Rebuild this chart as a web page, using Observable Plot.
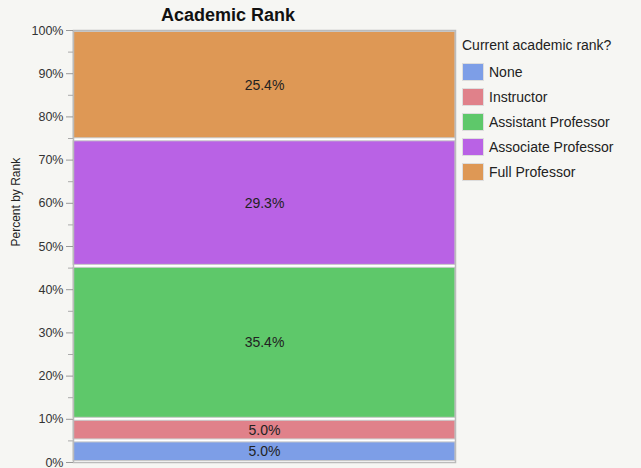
<!DOCTYPE html>
<html>
<head>
<meta charset="utf-8">
<script src="https://cdn.jsdelivr.net/npm/d3@7"></script>
<script src="https://cdn.jsdelivr.net/npm/@observablehq/plot@0.6"></script>
<style>
  html, body { margin: 0; padding: 0; background: #f6f6f3; }
  #wrap { position: relative; width: 641px; height: 468px; font-family: "Liberation Sans", Arial, sans-serif; }
  #title { position: absolute; left: 0; width: 456px; text-align: center; top: 5px; font-weight: bold; font-size: 18px; color: #111; }
  #legend { position: absolute; left: 462px; top: 37px; color: #222; }
  #legend .lt { font-size: 14px; margin-bottom: 6px; }
  #legend .row { display: flex; align-items: center; height: 25px; font-size: 14px; }
  #legend .sw { width: 22px; height: 18px; margin-right: 5px; border: 1px solid #ddd; box-sizing: border-box; }
</style>
</head>
<body>
<div id="wrap">
  <div id="chart"></div>
  <div id="title"></div>
  <div id="legend"></div>
</div>
<script>
const categories = ["None", "Instructor", "Assistant Professor", "Associate Professor", "Full Professor"];
const percents = [5.0, 5.0, 35.4, 29.3, 25.4];
const colors = ["#7d9ee7", "#e0818a", "#5ec86a", "#b962e5", "#de9855"];
const yTicks = [0, 10, 20, 30, 40, 50, 60, 70, 80, 90, 100];
const yMinorTicks = [5, 15, 25, 35, 45, 55, 65, 75, 85, 95];
const titleText = "Academic Rank";
const legendTitle = "Current academic rank?";
const yLabel = "Percent by Rank";

let acc = 0;
const data = categories.map((c, i) => {
  const y1 = acc; acc += percents[i];
  const y2 = Math.min(acc, 100);
  return { cat: c, value: percents[i], y1, y2, mid: (y1 + y2) / 2, group: "All" };
});

const chart = Plot.plot({
  width: 641,
  height: 468,
  marginLeft: 73,
  marginRight: 186,
  marginTop: 30,
  marginBottom: 6,
  style: { background: "transparent", fontFamily: "Liberation Sans, Arial, sans-serif", fontSize: "12px", color: "#333" },
  x: { axis: null, domain: ["All"], padding: 0 },
  y: { domain: [0, 100], label: null },
  color: { domain: categories, range: colors },
  marks: [
    Plot.frame({ fill: "white" }),
    Plot.barY(data, { x: "group", y1: "y1", y2: "y2", fill: "cat", stroke: "#c8c8c8", strokeWidth: 1, insetTop: 1.5, insetBottom: 1.5 }),
    Plot.text(data, { x: "group", y: "mid", text: d => d.value.toFixed(1) + "%", fontSize: 14, fill: "#222" }),
    Plot.frame({ stroke: "#bbb", strokeWidth: 1.5 }),
    Plot.axisY({ ticks: yTicks, tickFormat: d => d + "%", tickSize: 7, tickPadding: 3, stroke: "#999", fill: "#333", fontSize: 12.5, label: null }),
    Plot.axisY({ ticks: yMinorTicks, tickFormat: () => "", tickSize: 5, stroke: "#aaa", label: null }),
    Plot.text([yLabel], { frameAnchor: "left", dx: -57, rotate: -90, text: d => d, fontSize: 12, fill: "#222" })
  ]
});
document.getElementById("chart").appendChild(chart);

document.getElementById("title").textContent = titleText;
const lg = document.getElementById("legend");
const lt = document.createElement("div"); lt.className = "lt"; lt.textContent = legendTitle; lg.appendChild(lt);
categories.forEach((c, i) => {
  const r = document.createElement("div"); r.className = "row";
  const s = document.createElement("div"); s.className = "sw"; s.style.background = colors[i];
  const t = document.createElement("span"); t.textContent = c;
  r.appendChild(s); r.appendChild(t); lg.appendChild(r);
});
</script>
</body>
</html>
